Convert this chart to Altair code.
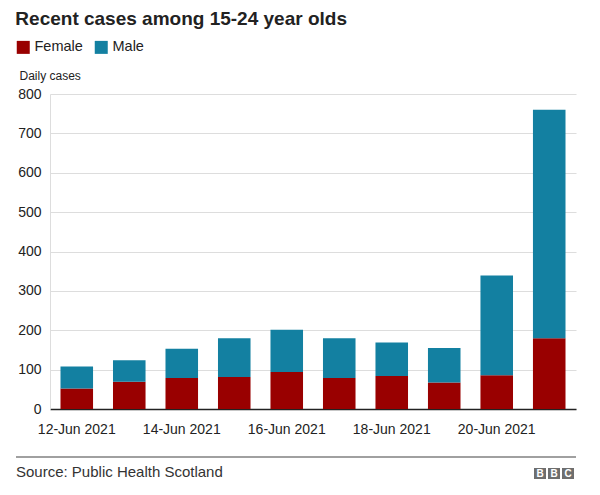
import altair as alt
import pandas as pd

dates = ["12-Jun 2021", "13-Jun 2021", "14-Jun 2021", "15-Jun 2021", "16-Jun 2021",
         "17-Jun 2021", "18-Jun 2021", "19-Jun 2021", "20-Jun 2021", "21-Jun 2021"]
female = [52, 69, 79, 81, 94, 79, 84, 67, 86, 180]
male = [56, 55, 74, 99, 107, 101, 85, 88, 253, 580]
series = ["Female", "Male"]
colors = ["#990000", "#1380A1"]
tick_dates = ["12-Jun 2021", "14-Jun 2021", "16-Jun 2021", "18-Jun 2021", "20-Jun 2021"]
y_ticks = [0, 100, 200, 300, 400, 500, 600, 700, 800]

rows = []
for d, f, m in zip(dates, female, male):
    rows.append({"date": d, "sex": "Female", "cases": f, "ord": 0})
    rows.append({"date": d, "sex": "Male", "cases": m, "ord": 1})
df = pd.DataFrame(rows)

FONT = "Liberation Sans"

bars = alt.Chart(df).mark_bar().encode(
    x=alt.X("date:N", sort=dates, title=None,
            scale=alt.Scale(paddingInner=0.38, paddingOuter=0.2),
            axis=alt.Axis(values=tick_dates, labelAngle=0, labelFontSize=14,
                          labelColor="#222", ticks=False, labelPadding=13,
                          domainColor="#222", domainWidth=1.5, grid=False)),
    y=alt.Y("cases:Q", stack="zero", title="Daily cases",
            scale=alt.Scale(domain=[0, 800], nice=False),
            axis=alt.Axis(values=y_ticks, labelFontSize=14, labelColor="#222",
                          ticks=False, labelPadding=9, domainColor="#dddddd",
                          gridColor="#dddddd", titleAngle=0, titleAlign="left",
                          titleBaseline="middle", titleX=-31, titleY=-19,
                          titleFontSize=12, titleFontWeight="normal",
                          titleColor="#222")),
    color=alt.Color("sex:N", scale=alt.Scale(domain=series, range=colors),
                    legend=alt.Legend(title=None, orient="none", legendX=-34,
                                      legendY=-54, direction="horizontal",
                                      symbolType="square", symbolSize=169,
                                      symbolStrokeWidth=0, labelFontSize=14.5,
                                      labelColor="#222", labelOffset=4,
                                      columnPadding=11)),
    order=alt.Order("ord:Q", sort="ascending"),
)

one = alt.Data(values=[{}])

footer_rule = alt.Chart(one).mark_rule(color="#808080", strokeWidth=1.3).encode(
    x=alt.value(-34), x2=alt.value(526), y=alt.value(363))

source = alt.Chart(one).mark_text(align="left", baseline="middle", fontSize=15,
                                  color="#333", font=FONT).encode(
    x=alt.value(-34), y=alt.value(378), text=alt.value("Source: Public Health Scotland"))

logo_layers = []
for i, letter in enumerate(["B", "B", "C"]):
    x0 = 484 + i * 14
    logo_layers.append(alt.Chart(one).mark_rect(color="#6e6e6e").encode(
        x=alt.value(x0), x2=alt.value(x0 + 12), y=alt.value(374), y2=alt.value(385)))
    logo_layers.append(alt.Chart(one).mark_text(color="white", fontSize=10,
                                                fontWeight="bold", font=FONT,
                                                align="center", baseline="middle").encode(
        x=alt.value(x0 + 6), y=alt.value(379.5), text=alt.value(letter)))

chart = alt.layer(bars, footer_rule, source, *logo_layers).properties(
    width=526, height=315,
    title=alt.TitleParams("Recent cases among 15-24 year olds", anchor="start",
                          fontSize=19, fontWeight="bold", color="#222", font=FONT,
                          offset=11),
    autosize=alt.AutoSizeParams(type="none"),
    padding={"left": 42, "top": 86, "right": 16, "bottom": 70},
).configure(font=FONT).configure_view(strokeWidth=0)

chart.save("out.html", embed_options={"renderer": "svg", "actions": False})
